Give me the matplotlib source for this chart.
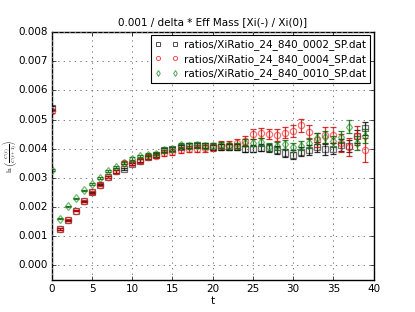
import matplotlib
matplotlib.use("Agg")
import matplotlib.pyplot as plt
from matplotlib.lines import Line2D
import numpy as np

plt.style.use("classic")

t = np.arange(0, 40)

y_0002 = [0.00540, 0.00125, 0.00155, 0.00188, 0.00220, 0.00250, 0.00277, 0.00303, 0.00322, 0.00330,
          0.00348, 0.00358, 0.00370, 0.00378, 0.00395, 0.00400, 0.00405, 0.00410, 0.00413, 0.00410,
          0.00405, 0.00405, 0.00405, 0.00405, 0.00398, 0.00400, 0.00403, 0.00403, 0.00395, 0.00385,
          0.00380, 0.00390, 0.00395, 0.00405, 0.00398, 0.00400, 0.00413, 0.00410, 0.00443, 0.00470]
e_0002 = [0.00006, 0.00002, 0.00002, 0.00002, 0.00002, 0.00003, 0.00003, 0.00003, 0.00004, 0.00004,
          0.00004, 0.00005, 0.00005, 0.00006, 0.00006, 0.00007, 0.00007, 0.00008, 0.00008, 0.00009,
          0.00009, 0.00010, 0.00010, 0.00011, 0.00011, 0.00012, 0.00012, 0.00013, 0.00013, 0.00014,
          0.00015, 0.00016, 0.00016, 0.00017, 0.00018, 0.00019, 0.00020, 0.00021, 0.00022, 0.00023]

y_0004 = [0.00530, 0.00125, 0.00155, 0.00188, 0.00220, 0.00250, 0.00277, 0.00303, 0.00322, 0.00352,
          0.00350, 0.00357, 0.00370, 0.00375, 0.00385, 0.00390, 0.00395, 0.00398, 0.00400, 0.00402,
          0.00405, 0.00412, 0.00412, 0.00418, 0.00428, 0.00450, 0.00455, 0.00450, 0.00447, 0.00455,
          0.00460, 0.00480, 0.00458, 0.00430, 0.00448, 0.00448, 0.00420, 0.00405, 0.00445, 0.00395]
e_0004 = [0.00006, 0.00002, 0.00003, 0.00003, 0.00003, 0.00004, 0.00004, 0.00005, 0.00005, 0.00006,
          0.00006, 0.00007, 0.00007, 0.00008, 0.00009, 0.00010, 0.00010, 0.00011, 0.00012, 0.00012,
          0.00013, 0.00014, 0.00014, 0.00015, 0.00016, 0.00017, 0.00017, 0.00018, 0.00019, 0.00020,
          0.00021, 0.00023, 0.00024, 0.00025, 0.00027, 0.00028, 0.00030, 0.00031, 0.00033, 0.00040]

y_0010 = [0.00327, 0.00160, 0.00202, 0.00230, 0.00258, 0.00278, 0.00300, 0.00323, 0.00338, 0.00350,
          0.00365, 0.00375, 0.00380, 0.00383, 0.00395, 0.00400, 0.00412, 0.00410, 0.00412, 0.00410,
          0.00410, 0.00413, 0.00410, 0.00410, 0.00420, 0.00420, 0.00422, 0.00405, 0.00410, 0.00415,
          0.00405, 0.00410, 0.00420, 0.00435, 0.00440, 0.00425, 0.00440, 0.00475, 0.00420, 0.00445]
e_0010 = [0.00004, 0.00002, 0.00002, 0.00002, 0.00002, 0.00003, 0.00003, 0.00003, 0.00004, 0.00004,
          0.00005, 0.00005, 0.00006, 0.00006, 0.00007, 0.00007, 0.00008, 0.00008, 0.00009, 0.00009,
          0.00010, 0.00010, 0.00011, 0.00011, 0.00012, 0.00012, 0.00013, 0.00013, 0.00014, 0.00015,
          0.00015, 0.00016, 0.00017, 0.00018, 0.00019, 0.00020, 0.00021, 0.00022, 0.00023, 0.00024]

labels = ["ratios/XiRatio_24_840_0002_SP.dat",
          "ratios/XiRatio_24_840_0004_SP.dat",
          "ratios/XiRatio_24_840_0010_SP.dat"]
colors = ["black", "red", "green"]
ecolors = ["black", "#cc0000", "#006400"]
markers = ["s", "o", "d"]
series = [(y_0002, e_0002), (y_0004, e_0004), (y_0010, e_0010)]

fig = plt.figure(figsize=(4.15, 3.12), dpi=100)
ax = fig.add_axes([0.125, 0.1026, 0.775, 0.7949])

handles = []
for (y, e), c, ec, m, lab in zip(series, colors, ecolors, markers, labels):
    ax.errorbar(t, y, yerr=e, fmt="none", ecolor=ec, capsize=2, elinewidth=0.9,
                capthick=0.9, alpha=0.8)
    ax.plot(t, y, linestyle="none", marker=m, mfc="none", mec=c, ms=4.5, mew=0.9, alpha=0.55)
    handles.append(Line2D([], [], linestyle="none", marker=m, mfc="none", mec=c,
                          ms=3, mew=0.7, alpha=0.7, label=lab))

ax.set_xlim(0, 40)
ax.set_ylim(-0.0005, 0.008)
ax.set_xticks(np.arange(0, 41, 5))
ax.set_yticks(np.arange(0, 0.0081, 0.001))
ax.yaxis.set_major_formatter(matplotlib.ticker.FormatStrFormatter("%.3f"))
ax.grid(True, linestyle=":", color="gray", linewidth=0.7)
ax.tick_params(labelsize=7.5, length=3, pad=3)
ax.set_xlabel("t", fontsize=7.5, labelpad=1)
fig.text(10.5 / 415, 1 - 156 / 312, r"$\ln\left(\frac{C(t)}{C(t+1)}\right)$",
         fontsize=5, rotation=90, ha="center", va="center")
ax.set_title("0.001 / delta * Eff Mass [Xi(-) / Xi(0)]", fontsize=7.5)
leg = ax.legend(handles=handles, loc="upper right", numpoints=2, fontsize=7.5,
                borderaxespad=0.3, handlelength=2.2, handletextpad=0.6, labelspacing=0.35)
leg.get_frame().set_linewidth(0.8)

fig.savefig("out.png", dpi=100)
